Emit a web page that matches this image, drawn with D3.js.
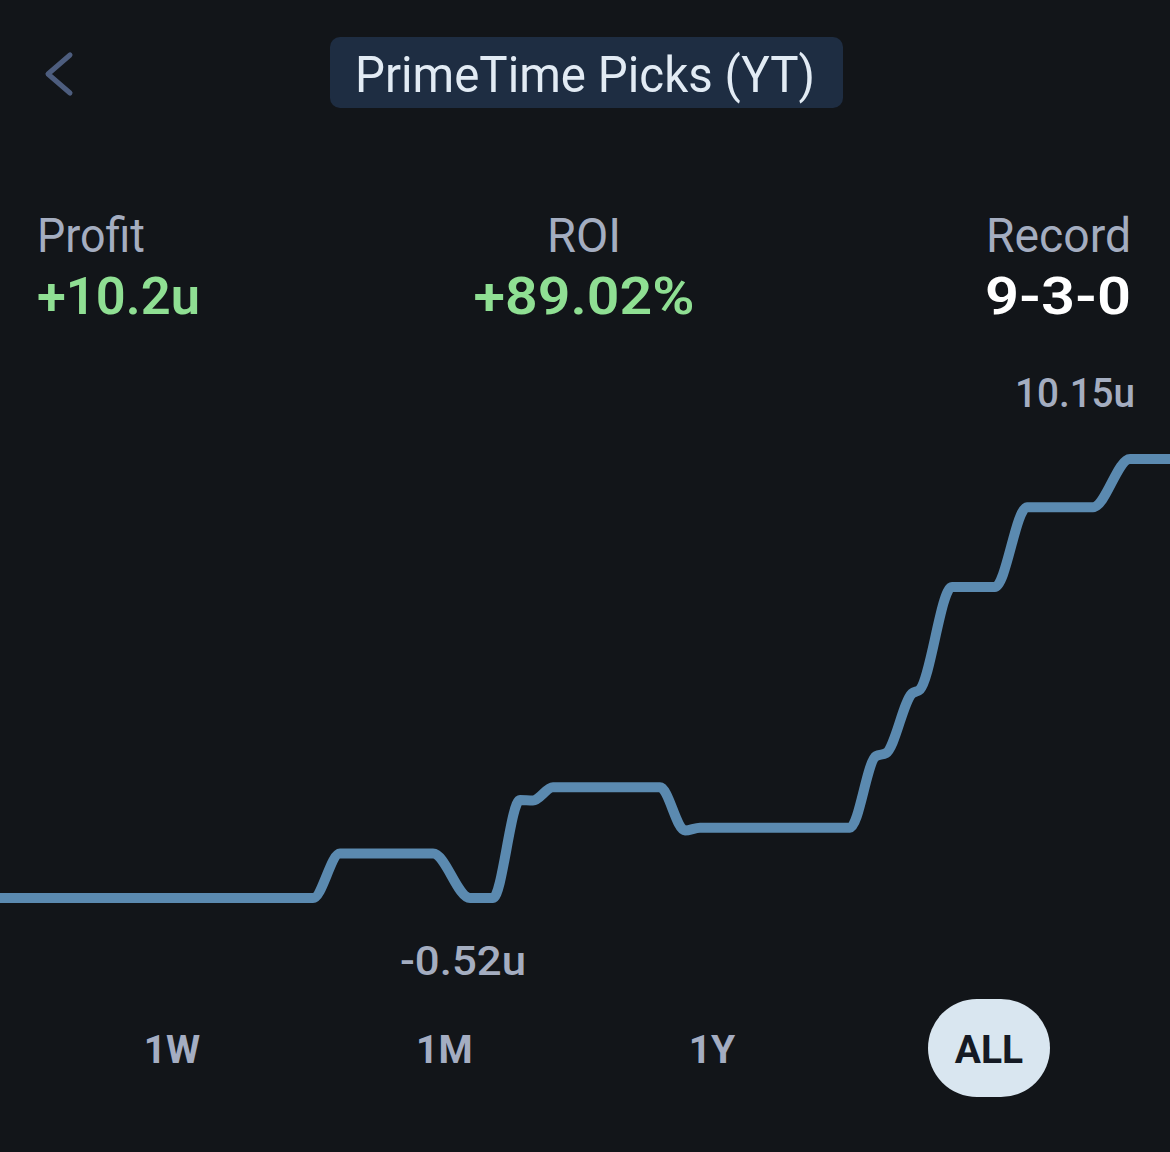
<!DOCTYPE html>
<html>
<head>
<meta charset="utf-8">
<script src="https://cdn.jsdelivr.net/npm/d3@7/dist/d3.min.js"></script>
<style>
  html, body { margin: 0; padding: 0; background: #121519; }
  svg { display: block; }
</style>
</head>
<body>
<svg id="chart" width="1170" height="1152"></svg>
<script>
// ---- data ----
const title = "PrimeTime Picks (YT)";
const statLabels = ["Profit", "ROI", "Record"];
const statValues = ["+10.2u", "+89.02%", "9-3-0"];
const ranges = ["1W", "1M", "1Y", "ALL"];
const activeRange = "ALL";
// elapsed time (arbitrary units) and cumulative profit (units)
const times  = [0, 31.3, 34.0, 43.3, 47.0, 49.3, 52.0, 53.3, 55.3, 66.0, 68.5, 70.0, 85.0, 87.6, 88.6, 91.2, 92.0, 95.2, 99.5, 102.7, 109.3, 113.0, 117.0];
const profit = [-0.52, -0.52, 0.56, 0.56, -0.52, -0.52, 1.86, 1.85, 2.17, 2.17, 1.12, 1.19, 1.19, 2.93, 3.0, 4.45, 4.55, 7.04, 7.04, 8.98, 8.98, 10.15, 10.15];
const maxLabel = "10.15u";
const minLabel = "-0.52u";

const data = times.map((t, i) => ({ t, v: profit[i] }));

const svg = d3.select("#chart");
const W = 1170;
const FONT = "Roboto, 'Noto Sans', sans-serif";

// background
svg.append("rect").attr("width", W).attr("height", 1152).attr("fill", "#121519");

// back chevron
svg.append("path")
  .attr("d", "M70,55 L48,74 L70,93")
  .attr("fill", "none").attr("stroke", "#4d5d7e")
  .attr("stroke-width", 5).attr("stroke-linecap", "round").attr("stroke-linejoin", "round");

// title pill
svg.append("rect")
  .attr("x", 330).attr("y", 37).attr("width", 513).attr("height", 71)
  .attr("rx", 10).attr("fill", "#1e2d42");
svg.append("text")
  .attr("x", 585).attr("y", 92)
  .attr("text-anchor", "middle")
  .attr("font-family", FONT).attr("font-size", 50).attr("font-weight", 400)
  .attr("textLength", 460).attr("lengthAdjust", "spacingAndGlyphs")
  .attr("fill", "#e2ebf4")
  .text(title);

// stats
const statX = [37, 584, 1131];
const statAnchor = ["start", "middle", "end"];
const statColor = ["#8fdf93", "#8fdf93", "#ffffff"];
const labelLen = [108, 74, 145];
const valueLen = [163, 221, 146];
statLabels.forEach((lab, i) => {
  svg.append("text")
    .attr("x", statX[i]).attr("y", 252)
    .attr("text-anchor", statAnchor[i])
    .attr("font-family", FONT).attr("font-size", 48).attr("font-weight", 400)
    .attr("textLength", labelLen[i]).attr("lengthAdjust", "spacingAndGlyphs")
    .attr("fill", "#a4adc0")
    .text(lab);
  svg.append("text")
    .attr("x", statX[i]).attr("y", 314)
    .attr("text-anchor", statAnchor[i])
    .attr("font-family", FONT).attr("font-size", 52).attr("font-weight", 600)
    .attr("textLength", valueLen[i]).attr("lengthAdjust", "spacingAndGlyphs")
    .attr("fill", statColor[i])
    .text(statValues[i]);
});

// scales
const x = d3.scaleLinear().domain([0, d3.max(times)]).range([0, W]);
const y = d3.scaleLinear().domain([d3.min(profit), d3.max(profit)]).range([898, 459]);

// line
const line = d3.line().x(d => x(d.t)).y(d => y(d.v)).curve(d3.curveMonotoneX);
svg.append("path")
  .datum(data)
  .attr("d", line)
  .attr("fill", "none")
  .attr("stroke", "#5b8ab0")
  .attr("stroke-width", 10)
  .attr("stroke-linejoin", "round")
  .attr("stroke-linecap", "butt");

// max / min labels
svg.append("text")
  .attr("x", 1135).attr("y", 407)
  .attr("text-anchor", "end")
  .attr("font-family", FONT).attr("font-size", 40).attr("font-weight", 500)
  .attr("textLength", 120).attr("lengthAdjust", "spacingAndGlyphs")
  .attr("fill", "#a4adc0")
  .text(maxLabel);
svg.append("text")
  .attr("x", 463).attr("y", 975)
  .attr("text-anchor", "middle")
  .attr("font-family", FONT).attr("font-size", 40).attr("font-weight", 500)
  .attr("textLength", 126).attr("lengthAdjust", "spacingAndGlyphs")
  .attr("fill", "#a4adc0")
  .text(minLabel);

// range buttons
const rangeX = d3.scalePoint().domain(ranges).range([172, 989]);
const rg = svg.append("g");
ranges.forEach(r => {
  const cx = r === "1Y" ? 712 : rangeX(r);
  if (r === activeRange) {
    rg.append("rect")
      .attr("x", cx - 61).attr("y", 999).attr("width", 122).attr("height", 98)
      .attr("rx", 49).attr("fill", "#d9e6f0");
  }
  rg.append("text")
    .attr("x", cx).attr("y", 1063)
    .attr("text-anchor", "middle")
    .attr("font-family", FONT).attr("font-size", 39).attr("font-weight", 700)
    .attr("fill", r === activeRange ? "#151a24" : "#a4adc2")
    .text(r);
});
</script>
</body>
</html>
